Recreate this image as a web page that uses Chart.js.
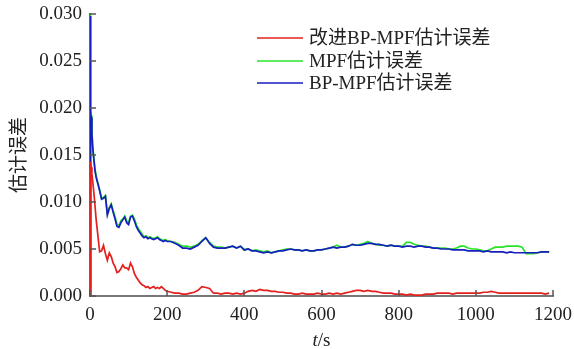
<!DOCTYPE html>
<html>
<head>
<meta charset="utf-8">
<script src="https://cdn.jsdelivr.net/npm/chart.js@4.4.1/dist/chart.umd.min.js"></script>
<style>
  body { margin: 0; background: #fff; }
  canvas { display: block; }
</style>
</head>
<body>
<canvas id="myChart" width="574" height="349"></canvas>
<script>
// sampling times (s)
const times = [
  0, 1, 2, 3, 5, 7, 10, 13, 16, 20,
  25, 30, 35, 40, 45, 50, 55, 60, 65, 70, 75, 80, 85, 90, 95, 100,
  105, 110, 115, 120, 125, 130, 135, 140, 145, 150, 155, 160, 165, 170,
  175, 180, 185, 190, 195, 200,
  210, 220, 230, 240, 250, 260, 270, 280, 290, 300,
  310, 320, 330, 340, 350, 360, 370, 380, 390, 400,
  410, 420, 430, 440, 450, 460, 470, 480, 490, 500,
  510, 520, 530, 540, 550, 560, 570, 580, 590, 600,
  610, 620, 630, 640, 650, 660, 670, 680, 690, 700,
  710, 720, 730, 740, 750, 760, 770, 780, 790, 800,
  810, 820, 830, 840, 850, 860, 870, 880, 890, 900,
  910, 920, 930, 940, 950, 960, 970, 980, 990, 1000,
  1010, 1020, 1030, 1040, 1050, 1060, 1070, 1080, 1090, 1100,
  1110, 1120, 1130, 1140, 1150, 1160, 1170, 1180, 1190
];

// improved BP-MPF
const errImproved = [
  0, 0.0143, 0.0140, 0.0137, 0.0130, 0.0122, 0.0110, 0.0096, 0.0081, 0.0066,
  0.0047, 0.0048, 0.0054, 0.0045, 0.0038, 0.0046, 0.0042, 0.0035, 0.0031, 0.0025, 0.0026, 0.0029, 0.0033, 0.0030, 0.0030, 0.0028,
  0.0035, 0.0031, 0.0024, 0.0020, 0.0017, 0.0014, 0.0012, 0.0011, 0.0009, 0.0010, 0.0008, 0.0009, 0.0010, 0.0008,
  0.0009, 0.0008, 0.0010, 0.0008, 0.0006, 0.0005,
  0.0004, 0.0003, 0.0003, 0.0002, 0.0002, 0.0003, 0.0004, 0.0006, 0.0010, 0.0009,
  0.0008, 0.0003, 0.0003, 0.0002, 0.0003, 0.0003, 0.0002, 0.0003, 0.0002, 0.0003,
  0.0005, 0.0006, 0.0005, 0.0007, 0.0006, 0.0006, 0.0005, 0.0005, 0.0004, 0.0004,
  0.0003, 0.0003, 0.0002, 0.0002, 0.0003, 0.0002, 0.0002, 0.0002, 0.0003, 0.0002,
  0.0002, 0.0003, 0.0002, 0.0003, 0.0002, 0.0003, 0.0004, 0.0005, 0.0006, 0.0006,
  0.0005, 0.0006, 0.0005, 0.0005, 0.0004, 0.0003, 0.0003, 0.0003, 0.0002, 0.0002,
  0.0002, 0.0001, 0.0002, 0.0001, 0.0001, 0.0001, 0.0002, 0.0002, 0.0002, 0.0003,
  0.0003, 0.0003, 0.0003, 0.0002, 0.0003, 0.0003, 0.0003, 0.0003, 0.0003, 0.0003,
  0.0003, 0.0004, 0.0004, 0.0005, 0.0004, 0.0003, 0.0003, 0.0003, 0.0003, 0.0003,
  0.0003, 0.0003, 0.0003, 0.0003, 0.0003, 0.0003, 0.0003, 0.0002, 0.0003
];

// MPF
const errMPF = [
  0, 0.0300, 0.0200, 0.0192, 0.0175, 0.0160, 0.0147, 0.0135, 0.0128, 0.0121,
  0.0113, 0.0104, 0.0105, 0.0107, 0.0088, 0.0094, 0.0098, 0.0091, 0.0084, 0.0076, 0.0075, 0.0080, 0.0082, 0.0085, 0.0080, 0.0078,
  0.0085, 0.0086, 0.0082, 0.0076, 0.0072, 0.0069, 0.0066, 0.0063, 0.0064, 0.0062, 0.0063, 0.0062, 0.0061, 0.0062,
  0.0063, 0.0061, 0.0060, 0.0059, 0.0060, 0.0059,
  0.0058, 0.0057, 0.0055, 0.0053, 0.0053, 0.0052, 0.0053, 0.0055, 0.0059, 0.0062,
  0.0057, 0.0053, 0.0052, 0.0052, 0.0051, 0.0052, 0.0053, 0.0051, 0.0053, 0.0049,
  0.0050, 0.0048, 0.0049, 0.0048, 0.0047, 0.0048, 0.0046, 0.0047, 0.0048, 0.0049,
  0.0050, 0.0050, 0.0049, 0.0049, 0.0048, 0.0049, 0.0048, 0.0048, 0.0049, 0.0049,
  0.0050, 0.0051, 0.0052, 0.0054, 0.0052, 0.0052, 0.0053, 0.0055, 0.0054, 0.0055,
  0.0056, 0.0058, 0.0056, 0.0055, 0.0054, 0.0054, 0.0053, 0.0054, 0.0053, 0.0053,
  0.0053, 0.0057, 0.0057, 0.0055, 0.0054, 0.0053, 0.0053, 0.0052, 0.0051, 0.0051,
  0.0051, 0.0051, 0.0050, 0.0050, 0.0051, 0.0053, 0.0053, 0.0051, 0.0050, 0.0050,
  0.0049, 0.0048, 0.0048, 0.0050, 0.0052, 0.0052, 0.0052, 0.0053, 0.0053, 0.0053,
  0.0053, 0.0052, 0.0045, 0.0045, 0.0045, 0.0046, 0.0047, 0.0047, 0.0047
];

// BP-MPF
const errBP = [
  0, 0.0298, 0.0195, 0.0190, 0.0172, 0.0158, 0.0145, 0.0133, 0.0126, 0.0120,
  0.0112, 0.0103, 0.0104, 0.0106, 0.0086, 0.0093, 0.0097, 0.0089, 0.0082, 0.0074, 0.0073, 0.0078, 0.0081, 0.0084, 0.0078, 0.0076,
  0.0084, 0.0085, 0.0080, 0.0074, 0.0070, 0.0067, 0.0064, 0.0062, 0.0063, 0.0061, 0.0062, 0.0061, 0.0060, 0.0061,
  0.0062, 0.0060, 0.0059, 0.0058, 0.0059, 0.0058,
  0.0058, 0.0056, 0.0054, 0.0051, 0.0051, 0.0050, 0.0052, 0.0054, 0.0058, 0.0062,
  0.0056, 0.0052, 0.0051, 0.0051, 0.0051, 0.0052, 0.0053, 0.0051, 0.0053, 0.0049,
  0.0050, 0.0048, 0.0048, 0.0047, 0.0046, 0.0047, 0.0046, 0.0047, 0.0048, 0.0048,
  0.0049, 0.0050, 0.0049, 0.0049, 0.0048, 0.0049, 0.0048, 0.0048, 0.0049, 0.0049,
  0.0050, 0.0051, 0.0052, 0.0051, 0.0052, 0.0052, 0.0053, 0.0055, 0.0054, 0.0054,
  0.0055, 0.0056, 0.0056, 0.0055, 0.0055, 0.0054, 0.0053, 0.0054, 0.0053, 0.0053,
  0.0052, 0.0053, 0.0053, 0.0052, 0.0053, 0.0053, 0.0052, 0.0052, 0.0051, 0.0051,
  0.0050, 0.0050, 0.0050, 0.0049, 0.0049, 0.0049, 0.0049, 0.0048, 0.0048, 0.0048,
  0.0048, 0.0047, 0.0048, 0.0047, 0.0047, 0.0047, 0.0047, 0.0046, 0.0047, 0.0046,
  0.0046, 0.0046, 0.0046, 0.0046, 0.0046, 0.0046, 0.0047, 0.0047, 0.0047
];

const seriesNames = ['改进BP-MPF估计误差', 'MPF估计误差', 'BP-MPF估计误差'];
const seriesColors = ['rgb(228,32,30)', 'rgb(40,228,40)', 'rgb(24,30,190)'];

const xTicks = [0, 200, 400, 600, 800, 1000, 1200];
const xTickLabels = ['0', '200', '400', '600', '800', '1000', '1200'];
const yTicks = [0, 0.005, 0.010, 0.015, 0.020, 0.025, 0.030];
const yTickLabels = ['0.000', '0.005', '0.010', '0.015', '0.020', '0.025', '0.030'];

const serif = "'Liberation Serif', 'Times New Roman', serif";
const cjk = "'Liberation Serif', 'Noto Sans CJK SC', serif";

function toPoints(values) {
    return times.map((t, i) => ({ x: t, y: values[i] }));
}

// inward tick marks, axis titles and the legend box
const decorations = {
    id: 'decorations',
    afterDraw(chart) {
        const ctx = chart.ctx;
        const xs = chart.scales.x;
        const ys = chart.scales.y;
        const area = chart.chartArea;

        ctx.save();
        ctx.strokeStyle = '#555';
        ctx.lineWidth = 1.5;
        ctx.beginPath();
        xTicks.forEach((v) => {
            const px = Math.round(xs.getPixelForValue(v));
            ctx.moveTo(px, area.bottom);
            ctx.lineTo(px, area.bottom - 6);
        });
        yTicks.forEach((v) => {
            const py = Math.round(ys.getPixelForValue(v));
            ctx.moveTo(area.left, py);
            ctx.lineTo(area.left + 6, py);
        });
        ctx.stroke();

        // y title
        ctx.fillStyle = '#222';
        ctx.font = "19px 'Noto Sans CJK SC', sans-serif";
        ctx.textAlign = 'center';
        ctx.textBaseline = 'middle';
        ctx.translate(18, (area.top + area.bottom) / 2);
        ctx.rotate(-Math.PI / 2);
        ctx.fillText('估计误差', 0, 0);
        ctx.setTransform(1, 0, 0, 1, 0, 0);

        // x title: italic t
        ctx.textAlign = 'left';
        ctx.textBaseline = 'alphabetic';
        ctx.font = 'italic 19px ' + serif;
        const wt = ctx.measureText('t').width;
        ctx.font = '19px ' + serif;
        const ws = ctx.measureText('/s').width;
        const cx = (area.left + area.right) / 2;
        const x0 = cx - (wt + ws) / 2;
        ctx.font = 'italic 19px ' + serif;
        ctx.fillText('t', x0, 346);
        ctx.font = '19px ' + serif;
        ctx.fillText('/s', x0 + wt, 346);

        // legend
        ctx.font = '19px ' + cjk;
        ctx.textBaseline = 'middle';
        ctx.lineWidth = 1.5;
        const rows = [38, 61, 83];
        seriesNames.forEach((name, i) => {
            ctx.strokeStyle = seriesColors[i];
            ctx.beginPath();
            ctx.moveTo(257, rows[i]);
            ctx.lineTo(303, rows[i]);
            ctx.stroke();
            ctx.fillStyle = '#222';
            ctx.fillText(name, 309, rows[i] + 1);
        });
        ctx.restore();
    }
};

const data = {
    datasets: [
        { label: seriesNames[0], data: toPoints(errImproved), borderColor: seriesColors[0], order: 0 },
        { label: seriesNames[1], data: toPoints(errMPF), borderColor: seriesColors[1], order: 2 },
        { label: seriesNames[2], data: toPoints(errBP), borderColor: seriesColors[2], order: 1 }
    ]
};

const config = {
    type: 'line',
    data: data,
    plugins: [decorations],
    options: {
        responsive: false,
        animation: false,
        devicePixelRatio: 1,
        layout: { padding: { left: 0, right: 21, top: 14, bottom: 0 } },
        elements: {
            point: { radius: 0 },
            line: { borderWidth: 1.7, tension: 0 }
        },
        plugins: {
            legend: { display: false },
            tooltip: { enabled: false }
        },
        scales: {
            x: {
                type: 'linear',
                min: 0,
                max: 1200,
                afterBuildTicks: (scale) => { scale.ticks = xTicks.map((v) => ({ value: v })); },
                afterFit: (scale) => {
                    scale.height = 53;
                    scale.paddingLeft = 0;
                    scale.paddingRight = 0;
                },
                grid: { display: false, drawTicks: false },
                border: { display: true, color: '#777', width: 2 },
                ticks: {
                    color: '#222',
                    padding: 8,
                    maxRotation: 0,
                    font: { family: serif, size: 19 },
                    callback: (value, index) => xTickLabels[index]
                }
            },
            y: {
                min: 0,
                max: 0.03,
                afterBuildTicks: (scale) => { scale.ticks = yTicks.map((v) => ({ value: v })); },
                afterFit: (scale) => {
                    scale.width = 90;
                    scale.paddingTop = 0;
                    scale.paddingBottom = 0;
                },
                grid: { display: false, drawTicks: false },
                border: { display: true, color: '#666', width: 2 },
                ticks: {
                    color: '#222',
                    padding: 8,
                    font: { family: serif, size: 19 },
                    callback: (value, index) => yTickLabels[index]
                }
            }
        }
    }
};

let myChart = new Chart(document.getElementById('myChart'), config);
</script>
</body>
</html>
